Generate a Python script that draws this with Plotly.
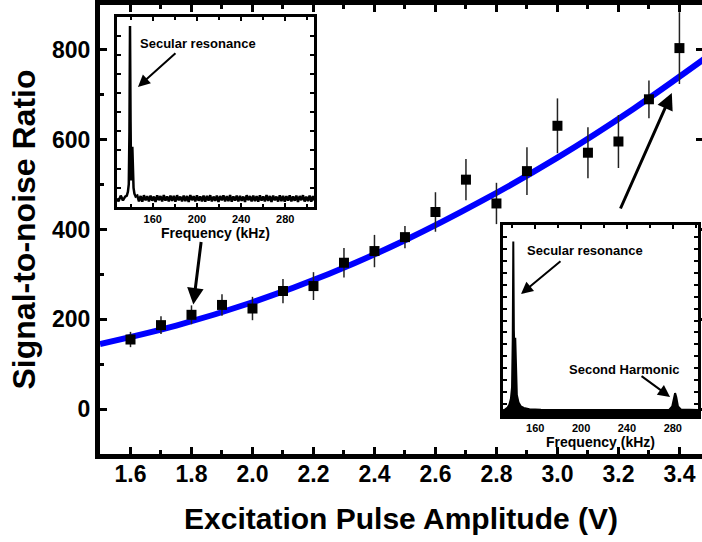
import plotly.graph_objects as go

# ---- main data ----
amplitude = [1.6, 1.7, 1.8, 1.9, 2.0, 2.1, 2.2, 2.3, 2.4, 2.5, 2.6, 2.7, 2.8, 2.9, 3.0, 3.1, 3.2, 3.3, 3.4]
snr = [155, 187, 210, 232, 224, 263, 274, 326, 352, 383, 439, 511, 458, 530, 631, 571, 596, 690, 804]
snr_err = [17, 20, 21, 24, 26, 27, 31, 33, 36, 25, 44, 46, 46, 53, 61, 57, 59, 42, 80]

fit_x = [1.5, 1.75, 2.0, 2.25, 2.5, 2.75, 3.0, 3.25, 3.5]
fit_y = [145, 186, 238, 301, 376, 463, 560, 669, 789]

# ---- inset 1 spectrum (only secular resonance) ----
freq1 = [127.6, 129, 131, 133, 135, 136.5, 137.5, 138.3, 138.9, 139.4, 139.9, 140.4, 140.9, 141.5, 142.0, 142.6, 143.4, 144.5,
         146, 147.5, 149, 150.5, 152, 153.5, 155, 156.5, 158, 159.5, 161, 162.5, 164, 165.5, 167, 168.5, 170, 171.5,
         173, 174.5, 176, 177.5, 179, 180.5, 182, 183.5, 185, 186.5, 188, 189.5, 191, 192.5, 194, 195.5, 197, 198.5,
         200, 201.5, 203, 204.5, 206, 207.5, 209, 210.5, 212, 213.5, 215, 216.5, 218, 219.5, 221, 222.5, 224, 225.5,
         227, 228.5, 230, 231.5, 233, 234.5, 236, 237.5, 239, 240.5, 242, 243.5, 245, 246.5, 248, 249.5, 251, 252.5,
         254, 255.5, 257, 258.5, 260, 261.5, 263, 264.5, 266, 267.5, 269, 270.5, 272, 273.5, 275, 276.5, 278, 279.5,
         281, 282.5, 284, 285.5, 287, 288.5, 290, 291.5, 293, 294.5, 296, 297.5, 299, 300.5, 302, 303.5, 305, 306]
amp1 = [0.045, 0.03, 0.06, 0.035, 0.055, 0.06, 0.08, 0.12, 0.4, 0.953, 0.45, 0.14, 0.2, 0.317, 0.18, 0.1, 0.07, 0.055,
        0.06, 0.03, 0.058, 0.028, 0.062, 0.035, 0.057, 0.03, 0.06, 0.033, 0.055, 0.027, 0.061, 0.036, 0.058, 0.029, 0.063, 0.034,
        0.056, 0.03, 0.06, 0.032, 0.059, 0.028, 0.062, 0.035, 0.055, 0.03, 0.06, 0.031, 0.058, 0.027, 0.063, 0.036,
        0.057, 0.029, 0.061, 0.033, 0.056, 0.03, 0.06, 0.028, 0.059, 0.034, 0.062, 0.03, 0.055, 0.032, 0.06, 0.027,
        0.058, 0.035, 0.061, 0.029, 0.057, 0.031, 0.063, 0.028, 0.056, 0.034, 0.06, 0.03, 0.059, 0.033, 0.055, 0.027,
        0.062, 0.036, 0.058, 0.029, 0.06, 0.031, 0.057, 0.028, 0.061, 0.034, 0.056, 0.03, 0.063, 0.032, 0.058, 0.027,
        0.06, 0.035, 0.055, 0.029, 0.062, 0.031, 0.059, 0.028, 0.057, 0.034, 0.061, 0.03, 0.056, 0.033, 0.06, 0.027,
        0.058, 0.036, 0.062, 0.029, 0.055, 0.031, 0.06, 0.028, 0.057, 0.034, 0.061, 0.03, 0.059, 0.045]

# ---- inset 2 spectrum (secular resonance + second harmonic) ----
freq2 = [131.9, 134, 136, 137.5, 138.8, 139.8, 140.4, 140.9, 141.4, 142.0, 142.6, 143.2, 144, 145.5, 147.5, 150, 155, 165,
         200, 270, 277, 279.5, 281, 282, 283, 284.5, 287, 295, 302]
amp2 = [0.03, 0.035, 0.045, 0.06, 0.09, 0.15, 0.4, 0.913, 0.45, 0.3, 0.41, 0.2, 0.11, 0.07, 0.05, 0.042, 0.036, 0.033,
        0.031, 0.031, 0.033, 0.05, 0.1, 0.12, 0.1, 0.05, 0.034, 0.031, 0.031]

FONT = "Liberation Sans, Arial, Helvetica, sans-serif"

fig = go.Figure()

fig.add_trace(go.Scatter(x=fit_x, y=fit_y, mode="lines", line=dict(color="#0000FF", width=6, shape="spline"),
                         hoverinfo="skip", showlegend=False))
fig.add_trace(go.Scatter(x=amplitude, y=snr, mode="markers",
                         marker=dict(symbol="square", size=10, color="black"),
                         error_y=dict(type="data", array=snr_err, visible=True, color="#222222", thickness=1.5, width=0),
                         showlegend=False))
# invisible anchor for right-side tick axis
fig.add_trace(go.Scatter(x=[1.5], y=[0], mode="markers", marker=dict(opacity=0), yaxis="y4",
                         hoverinfo="skip", showlegend=False))

fig.add_trace(go.Scatter(x=freq1, y=amp1, mode="lines", line=dict(color="black", width=2.5),
                         xaxis="x2", yaxis="y2", showlegend=False))
fig.add_trace(go.Scatter(x=freq2, y=amp2, mode="lines", line=dict(color="black", width=2),
                         fill="tozeroy", fillcolor="black",
                         xaxis="x3", yaxis="y3", showlegend=False))

bold = dict(family=FONT, color="black", weight="bold")

main_axis_common = dict(showline=True, linewidth=5, linecolor="black", ticks="inside", ticklen=7, tickwidth=3,
                        tickcolor="black", showgrid=False, zeroline=False, automargin=False)

inset_axis_common = dict(showline=True, linewidth=3, linecolor="black", mirror="ticks", ticks="inside",
                         ticklen=4, tickwidth=2, tickcolor="black", showgrid=False, zeroline=False,
                         automargin=False)

fig.update_layout(
    width=702, height=542,
    margin=dict(l=100, r=0, t=5, b=88),
    paper_bgcolor="white", plot_bgcolor="white",
    font=bold,
    xaxis=dict(range=[1.5, 3.474], mirror="ticks", tick0=1.6, dtick=0.2, tickformat=".1f",
               minor=dict(tick0=1.5, dtick=0.1, ticklen=4, tickwidth=3, ticks="inside", tickcolor="black"),
               tickfont=dict(size=23, **bold), ticklabelstandoff=-5,
               title=dict(text="Excitation Pulse Amplitude (V)", font=dict(size=30, **bold), standoff=24),
               **main_axis_common),
    yaxis=dict(range=[-100, 900], mirror=False, tick0=0, dtick=200,
               minor=dict(tick0=0, dtick=100, ticklen=4, tickwidth=3, ticks="inside", tickcolor="black"),
               tickfont=dict(size=23, **bold),
               title=dict(text="Signal-to-noise Ratio", font=dict(size=32, **bold), standoff=8),
               **main_axis_common),
    yaxis4=dict(overlaying="y", side="right", anchor="x", range=[-100, 900], showline=False,
                ticks="inside", ticklen=6, tickwidth=3, tickcolor="black", tick0=0, dtick=200,
                showticklabels=False, showgrid=False, zeroline=False, automargin=False),
    xaxis2=dict(domain=[0.0282, 0.3555], anchor="y2", range=[127.6, 306], tick0=160, dtick=40,
                minor=dict(tick0=140, dtick=20, ticklen=3, tickwidth=2, ticks="inside", tickcolor="black"),
                tickfont=dict(size=11, **bold), ticklabelstandoff=0,
                title=dict(text="Frequency (kHz)", font=dict(size=14, **bold), standoff=0),
                **inset_axis_common),
    yaxis2=dict(domain=[0.5501, 0.9733], anchor="x2", range=[0, 1], dtick=0.1, showticklabels=False,
                **inset_axis_common),
    xaxis3=dict(domain=[0.6694, 0.9934], anchor="y3", range=[131.9, 302], tick0=160, dtick=40,
                minor=dict(tick0=140, dtick=20, ticklen=3, tickwidth=2, ticks="inside", tickcolor="black"),
                tickfont=dict(size=11, **bold), ticklabelstandoff=0,
                title=dict(text="Frequency (kHz)", font=dict(size=14, **bold), standoff=0),
                **inset_axis_common),
    yaxis3=dict(domain=[0.0846, 0.510], anchor="x3", range=[0, 1], dtick=0.0625, showticklabels=False,
                **inset_axis_common),
)

annotations = [
    # main arrows
    dict(x=1.806, y=233, xref="x", yref="y", ax=8, ay=-64, text="", showarrow=True,
         arrowhead=2, arrowsize=1.1, arrowwidth=3, arrowcolor="black"),
    dict(x=3.375, y=704, xref="x", yref="y", ax=-52, ay=117, text="", showarrow=True,
         arrowhead=2, arrowsize=1.1, arrowwidth=3, arrowcolor="black"),
    # inset 1
    dict(x=201.4, y=0.863, xref="x2", yref="y2", text="Secular resonance", showarrow=False,
         font=dict(size=13, **bold)),
    dict(x=146.6, y=0.632, xref="x2", yref="y2", ax=39, ay=-35, text="", showarrow=True,
         arrowhead=2, arrowsize=1.2, arrowwidth=2, arrowcolor="black"),
    # inset 2
    dict(x=203, y=0.869, xref="x3", yref="y3", text="Secular resonance", showarrow=False,
         font=dict(size=13, **bold)),
    dict(x=147.6, y=0.639, xref="x3", yref="y3", ax=41, ay=-34, text="", showarrow=True,
         arrowhead=2, arrowsize=1.2, arrowwidth=2, arrowcolor="black"),
    dict(x=237.9, y=0.246, xref="x3", yref="y3", text="Second Harmonic", showarrow=False,
         font=dict(size=13, **bold)),
    dict(x=277.6, y=0.0995, xref="x3", yref="y3", ax=-30, ay=-22, text="", showarrow=True,
         arrowhead=2, arrowsize=1.2, arrowwidth=2, arrowcolor="black"),
]
fig.update_layout(annotations=annotations)

fig.write_html("out.html", config={"displayModeBar": False},
               post_script="document.body.style.margin='0px';")
